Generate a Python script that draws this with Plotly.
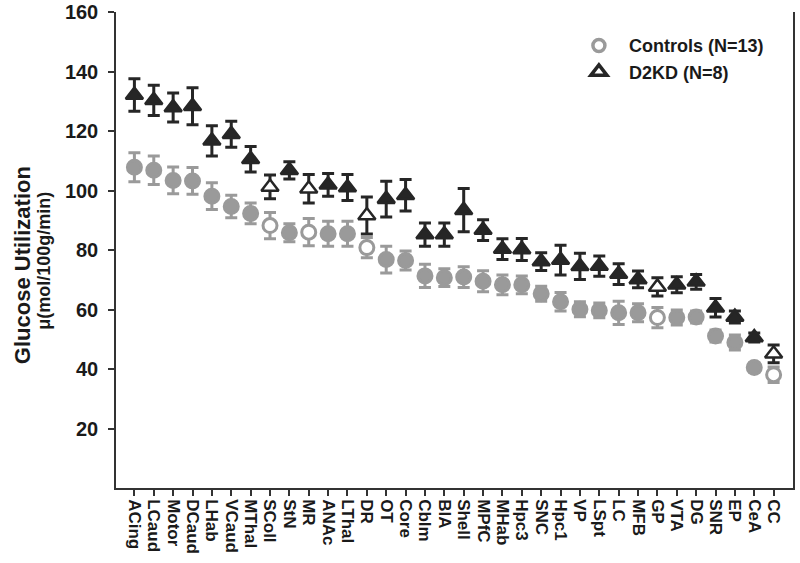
import plotly.graph_objects as go

regions = ["ACing", "LCaud", "Motor", "DCaud", "LHab", "VCaud", "MThal", "SColl", "StN", "MR",
           "ANAc", "LThal", "DR", "OT", "Core", "Cblm", "BlA", "Shell", "MPfC", "MHab",
           "Hpc3", "SNC", "Hpc1", "VP", "LSpt", "LC", "MFB", "GP", "VTA", "DG",
           "SNR", "EP", "CeA", "CC"]

controls_mean = [107.8, 106.8, 103.4, 103.2, 98.1, 94.6, 92.3, 88.2, 85.8, 86.0,
                 85.5, 85.5, 80.8, 76.8, 76.5, 71.3, 70.7, 70.9, 69.5, 68.3,
                 68.3, 65.3, 62.6, 60.1, 59.7, 58.9, 58.9, 57.3, 57.3, 57.5,
                 51.1, 48.9, 40.5, 38.1]
controls_err = [4.9, 4.8, 4.5, 4.5, 4.5, 3.8, 3.5, 4.4, 3.0, 4.6,
                4.2, 4.2, 3.4, 4.5, 3.2, 3.9, 3.0, 3.5, 3.5, 3.3,
                3.0, 2.5, 3.1, 2.5, 2.5, 3.9, 3.0, 3.4, 2.5, 2.0,
                2.0, 2.5, 1.5, 2.6]

d2kd_mean = [132.1, 130.3, 127.9, 128.3, 116.7, 118.9, 110.5, 101.2, 106.8, 100.6,
             101.9, 101.0, 91.6, 97.1, 98.4, 85.2, 85.2, 93.4, 86.7, 80.3,
             80.2, 76.1, 76.6, 74.5, 74.6, 71.9, 70.1, 67.6, 68.3, 69.3,
             60.6, 57.5, 50.6, 45.1]
d2kd_err = [5.5, 5.1, 4.9, 6.2, 5.1, 4.4, 4.3, 4.0, 2.9, 4.8,
            3.8, 4.4, 6.2, 6.0, 5.3, 3.9, 3.9, 7.3, 3.5, 3.5,
            3.7, 3.0, 5.0, 4.4, 3.4, 3.5, 2.8, 3.1, 2.7, 2.5,
            3.1, 2.0, 1.5, 3.0]

# regions drawn with open (hollow) symbols
open_regions = ["SColl", "MR", "DR", "GP", "CC"]

GRAY = "#9a9a9a"
BLACK = "#262626"
FONT = "Liberation Sans"

ctrl_fill = ["white" if r in open_regions else GRAY for r in regions]
d2_fill = ["white" if r in open_regions else BLACK for r in regions]

fig = go.Figure()

fig.add_trace(go.Scatter(
    x=regions, y=controls_mean, mode="markers", showlegend=False,
    error_y=dict(type="data", array=controls_err, visible=True,
                 color=GRAY, thickness=3, width=6),
    marker=dict(symbol="circle", size=14, color=ctrl_fill,
                line=dict(color=GRAY, width=3)),
))
fig.add_trace(go.Scatter(
    x=regions, y=d2kd_mean, mode="markers", showlegend=False,
    error_y=dict(type="data", array=d2kd_err, visible=True,
                 color=BLACK, thickness=3, width=6),
    marker=dict(symbol="triangle-up", size=15, color=d2_fill,
                line=dict(color=BLACK, width=2.5)),
))

# legend entries
fig.add_trace(go.Scatter(
    x=[None], y=[None], mode="markers", name="Controls (N=13)",
    marker=dict(symbol="circle", size=12, color="white",
                line=dict(color=GRAY, width=3.5)),
))
fig.add_trace(go.Scatter(
    x=[None], y=[None], mode="markers", name="D2KD (N=8)",
    marker=dict(symbol="triangle-up", size=14, color="white",
                line=dict(color=BLACK, width=3.5)),
))

fig.update_layout(
    width=800, height=563,
    margin=dict(l=116, r=7, t=12, b=75),
    paper_bgcolor="white", plot_bgcolor="white",
    font=dict(family=FONT, color="#222222"),
    showlegend=True,
    legend=dict(x=0.669, y=0.968, xanchor="left", yanchor="top",
                font=dict(family=FONT, size=18, color="#1a1a1a", weight="bold"),
                bgcolor="rgba(0,0,0,0)", itemsizing="trace", tracegroupgap=0,
                itemwidth=50),
    xaxis=dict(
        range=[-0.95, 34.0], showgrid=False, zeroline=False, automargin=False,
        showline=True, linecolor="#333333", linewidth=1.5,
        tickmode="linear", tick0=0, dtick=1,
        ticks="outside", ticklen=6, tickwidth=1.5, tickcolor="#333333",
        tickangle=90,
        tickfont=dict(family=FONT, size=17, color="#1a1a1a", weight="bold"),
    ),
    yaxis=dict(
        range=[0, 160], showgrid=False, zeroline=False, automargin=False,
        showline=True, linecolor="#333333", linewidth=1.5, mirror=True,
        ticks="outside", ticklen=6, tickwidth=1.5, tickcolor="#333333",
        tickvals=[20, 40, 60, 80, 100, 120, 140, 160],
        ticklabelstandoff=6, ticklabeloverflow="allow",
        tickfont=dict(family=FONT, size=20, color="#1a1a1a", weight="bold"),
    ),
)

fig.add_annotation(
    text="Glucose Utilization", textangle=-90, showarrow=False,
    xref="paper", yref="paper", x=-0.139, y=0.468, xanchor="center", yanchor="middle",
    font=dict(family=FONT, size=22, color="#1a1a1a", weight="bold"),
)
fig.add_annotation(
    text="μ(mol/100g/min)", textangle=-90, showarrow=False,
    xref="paper", yref="paper", x=-0.106, y=0.478, xanchor="center", yanchor="middle",
    font=dict(family=FONT, size=18, color="#1a1a1a", weight="bold"),
)

fig.write_html("out.html", config={"displayModeBar": False},
               post_script="document.body.style.margin='0';")
